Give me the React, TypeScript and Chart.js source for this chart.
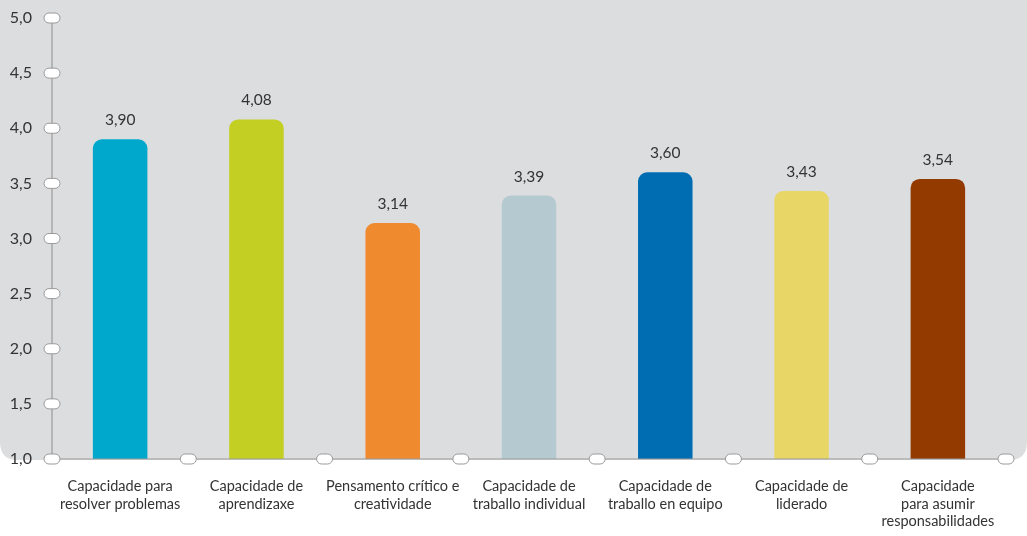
import React, { useEffect, useRef } from "react";
import { Chart, registerables } from "chart.js";

Chart.register(...registerables);

const categories: string[][] = [
  ["Capacidade para", "resolver problemas"],
  ["Capacidade de", "aprendizaxe"],
  ["Pensamento crítico e", "creatividade"],
  ["Capacidade de", "traballo individual"],
  ["Capacidade de", "traballo en equipo"],
  ["Capacidade de", "liderado"],
  ["Capacidade", "para asumir", "responsabilidades"],
];
const values: number[] = [3.9, 4.08, 3.14, 3.39, 3.6, 3.43, 3.54];
const barColors: string[] = ["#00a8cc", "#c3cf22", "#f08a2f", "#b5cad0", "#006db3", "#e8d666", "#933a00"];
const yMin = 1;
const yMax = 5;
const yStep = 0.5;

const FONT = "Lato, 'Open Sans', sans-serif";

const fmt = (v: number, d: number) => v.toFixed(d).replace(".", ",");

function oval(ctx: CanvasRenderingContext2D, x: number, y: number) {
  const w = 16, h = 10, r = 5;
  ctx.beginPath();
  ctx.moveTo(x - w / 2 + r, y - h / 2);
  ctx.lineTo(x + w / 2 - r, y - h / 2);
  ctx.arc(x + w / 2 - r, y, r, -Math.PI / 2, Math.PI / 2);
  ctx.lineTo(x - w / 2 + r, y + h / 2);
  ctx.arc(x - w / 2 + r, y, r, Math.PI / 2, (3 * Math.PI) / 2);
  ctx.closePath();
  ctx.fillStyle = "#ffffff";
  ctx.fill();
  ctx.strokeStyle = "#9a9a9a";
  ctx.lineWidth = 1;
  ctx.stroke();
}

const decor = {
  id: "decor",
  beforeDraw(chart: any) {
    const ctx = chart.ctx as CanvasRenderingContext2D;
    const { chartArea } = chart;
    const W = chart.width;
    const bottom = chartArea.bottom + 1;
    const r = 18;
    ctx.save();
    ctx.fillStyle = "#dcdddf";
    ctx.beginPath();
    ctx.moveTo(0, 0);
    ctx.lineTo(W, 0);
    ctx.lineTo(W, bottom - r);
    ctx.quadraticCurveTo(W, bottom, W - r, bottom);
    ctx.lineTo(r, bottom);
    ctx.quadraticCurveTo(0, bottom, 0, bottom - r);
    ctx.closePath();
    ctx.fill();
    ctx.restore();
  },
  afterDatasetsDraw(chart: any) {
    const ctx = chart.ctx as CanvasRenderingContext2D;
    const { chartArea } = chart;
    const xs = chart.scales.x;
    const ys = chart.scales.y;
    ctx.save();
    ctx.strokeStyle = "#9a9a9a";
    ctx.lineWidth = 1.2;
    ctx.beginPath();
    ctx.moveTo(chartArea.left, chartArea.top);
    ctx.lineTo(chartArea.left, chartArea.bottom);
    ctx.lineTo(chartArea.right, chartArea.bottom);
    ctx.stroke();
    for (let v = yMin; v <= yMax + 1e-9; v += yStep) {
      oval(ctx, chartArea.left, ys.getPixelForValue(v));
    }
    const n = categories.length;
    for (let i = 1; i <= n; i++) {
      const x = (xs.getPixelForValue(i - 1) + (i < n ? xs.getPixelForValue(i) : 2 * xs.getPixelForValue(i - 1) - xs.getPixelForValue(i - 2))) / 2;
      oval(ctx, x, chartArea.bottom);
    }
    // value labels
    const meta = chart.getDatasetMeta(0);
    ctx.fillStyle = "#333333";
    ctx.font = `15.5px ${FONT}`;
    ctx.textAlign = "center";
    ctx.textBaseline = "alphabetic";
    meta.data.forEach((bar: any, i: number) => {
      ctx.fillText(fmt(values[i], 2), bar.x, bar.y - 14);
    });
    ctx.restore();
  },
};

export default function App() {
  const ref = useRef<HTMLCanvasElement | null>(null);
  useEffect(() => {
    document.body.style.margin = "0";
    const canvas = ref.current!;
    const chart = new Chart(canvas, {
      type: "bar",
      data: {
        labels: categories,
        datasets: [
          {
            data: values,
            backgroundColor: barColors,
            borderRadius: 9,
            borderSkipped: false,
            categoryPercentage: 1,
            barPercentage: 0.4,
          },
        ],
      },
      options: {
        responsive: false,
        animation: false,
        maintainAspectRatio: false,
        layout: { padding: { top: 18, right: 21, left: 0, bottom: 0 } },
        plugins: { legend: { display: false }, tooltip: { enabled: false } },
        scales: {
          x: {
            grid: { display: false, drawTicks: false },
            border: { display: false },
            ticks: {
              color: "#333333",
              font: { family: FONT, size: 14.5, lineHeight: 1.2 },
              padding: 19,
              maxRotation: 0,
              autoSkip: false,
            },
            afterFit: (s: any) => {
              s.height = 77;
              s.paddingLeft = 0;
              s.paddingRight = 0;
            },
          },
          y: {
            min: yMin,
            max: yMax,
            grid: { display: false, drawTicks: false },
            border: { display: false },
            ticks: {
              stepSize: yStep,
              color: "#333333",
              font: { family: FONT, size: 16 },
              padding: 20,
              callback: (v: any) => fmt(Number(v), 1),
            },
            afterFit: (s: any) => {
              s.width = 52;
              s.paddingTop = 0;
              s.paddingBottom = 0;
            },
          },
        },
      },
      plugins: [decor],
    });
    return () => chart.destroy();
  }, []);
  return (
    <div style={{ width: 1027, height: 536 }}>
      <canvas ref={ref} width={1027} height={536} style={{ display: "block" }} />
    </div>
  );
}
